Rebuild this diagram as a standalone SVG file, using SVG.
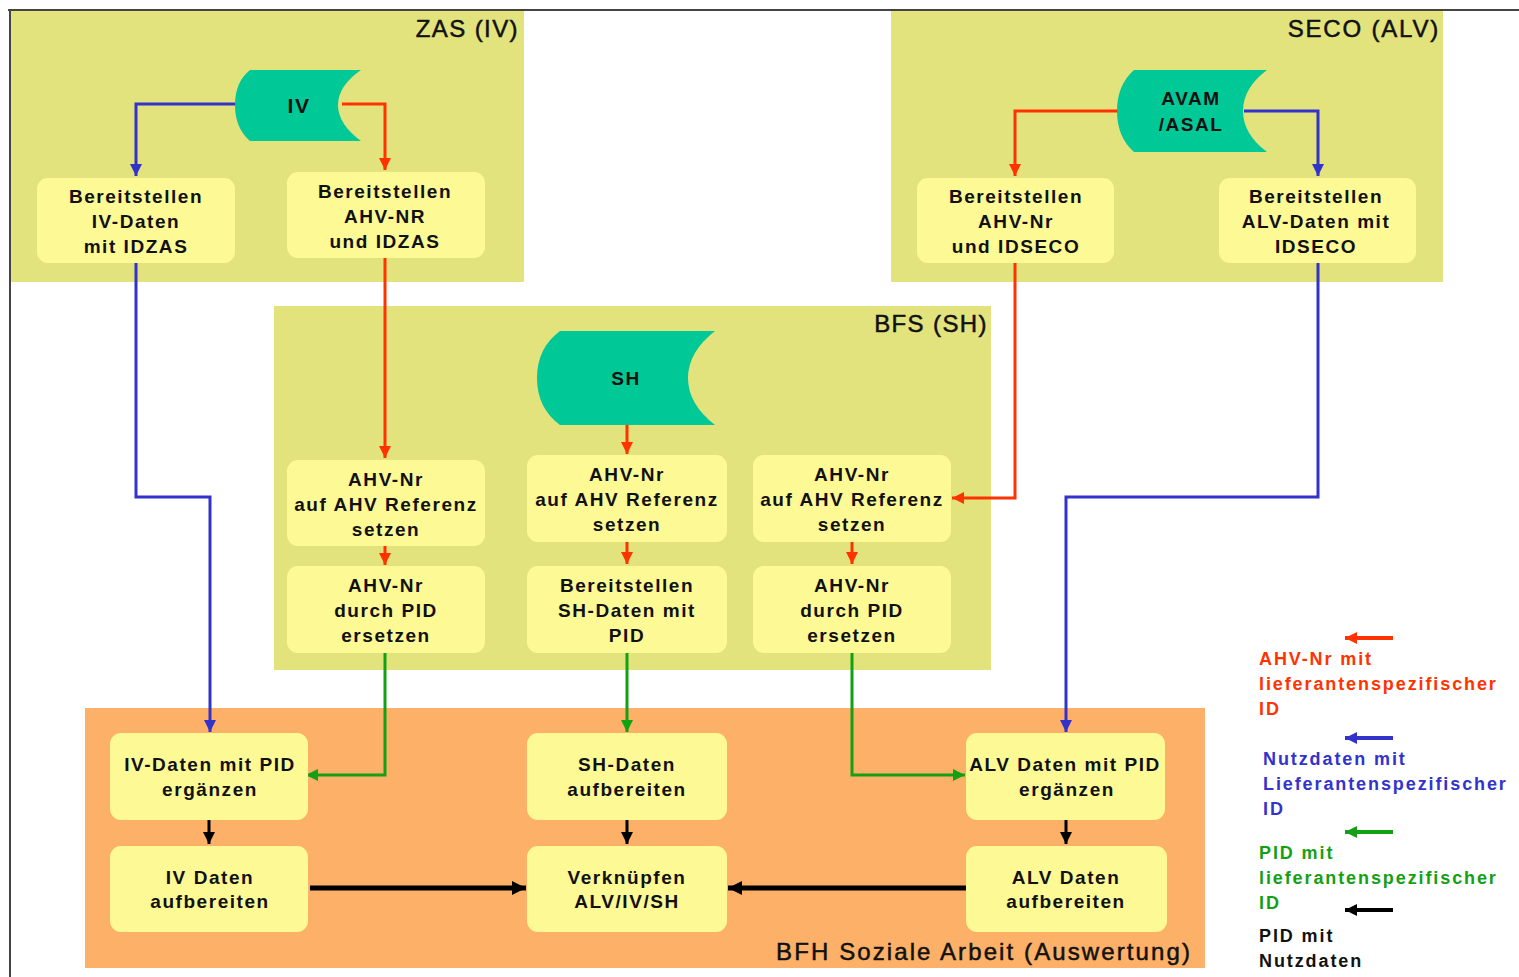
<svg xmlns="http://www.w3.org/2000/svg" width="1519" height="977" viewBox="0 0 1519 977">
<defs>
<style>
.panel{fill:#e3e37e}
.orange{fill:#fdb067}
.box{fill:#fdfa96}
.store{fill:#00c896}
.t{font-family:"Liberation Sans",Arial,sans-serif;font-weight:bold;font-size:19px;letter-spacing:1.55px;text-anchor:middle;fill:#111}
.title{font-family:"Liberation Sans",Arial,sans-serif;font-size:24px;letter-spacing:1.4px;text-anchor:end;fill:#111;stroke:#111;stroke-width:0.5}
.lg{font-family:"Liberation Sans",Arial,sans-serif;font-weight:bold;font-size:18px;letter-spacing:1.9px}
.red{stroke:#ff3300;stroke-width:3;fill:none}
.blue{stroke:#3333cc;stroke-width:3;fill:none}
.green{stroke:#14a014;stroke-width:3;fill:none}
.black{stroke:#000;stroke-width:3;fill:none}
.blackthick{stroke:#000;stroke-width:5;fill:none}
.lgl{stroke-width:4}
</style>
<marker id="ar" markerUnits="userSpaceOnUse" markerWidth="12" markerHeight="12" viewBox="0 0 12 12" refX="12" refY="6" orient="auto"><path d="M0,0 L12,6 L0,12 z" fill="#ff3300"/></marker>
<marker id="ab" markerUnits="userSpaceOnUse" markerWidth="12" markerHeight="12" viewBox="0 0 12 12" refX="12" refY="6" orient="auto"><path d="M0,0 L12,6 L0,12 z" fill="#3333cc"/></marker>
<marker id="ag" markerUnits="userSpaceOnUse" markerWidth="12" markerHeight="12" viewBox="0 0 12 12" refX="12" refY="6" orient="auto"><path d="M0,0 L12,6 L0,12 z" fill="#14a014"/></marker>
<marker id="ak" markerUnits="userSpaceOnUse" markerWidth="12" markerHeight="12" viewBox="0 0 12 12" refX="12" refY="6" orient="auto"><path d="M0,0 L12,6 L0,12 z" fill="#000"/></marker>
<marker id="akb" markerUnits="userSpaceOnUse" markerWidth="14" markerHeight="14" viewBox="0 0 14 14" refX="14" refY="7" orient="auto"><path d="M0,0 L14,7 L0,14 z" fill="#000"/></marker>
</defs>
<rect x="0" y="0" width="1519" height="977" fill="#fff"/>

<g id="panels">
<rect class="panel" x="10" y="11" width="514" height="271"/>
<rect class="panel" x="891" y="11" width="552" height="271"/>
<rect class="panel" x="274" y="306" width="717" height="364"/>
<rect class="orange" x="85" y="708" width="1120" height="260"/>
<text class="title" x="519" y="37">ZAS (IV)</text>
<text class="title" x="1440" y="37" style="letter-spacing:1.8px">SECO (ALV)</text>
<text class="title" x="988" y="332">BFS (SH)</text>
<text class="title" x="1192" y="960" style="letter-spacing:2.1px">BFH Soziale Arbeit (Auswertung)</text>
</g>

<g id="frame" stroke="#444" stroke-width="2" fill="none">
<line x1="8" y1="10" x2="1519" y2="10"/>
<line x1="10" y1="9" x2="10" y2="977"/>
</g>

<g id="connectors">
<polyline class="blue" points="236,104 136,104 136,176" marker-end="url(#ab)"/>
<polyline class="red" points="342,104 385,104 385,170" marker-end="url(#ar)"/>
<polyline class="red" points="1118,111 1015,111 1015,176" marker-end="url(#ar)"/>
<polyline class="blue" points="1244,111 1318,111 1318,176" marker-end="url(#ab)"/>
<polyline class="red" points="385,258 385,458" marker-end="url(#ar)"/>
<polyline class="red" points="627,425 627,454" marker-end="url(#ar)"/>
<polyline class="red" points="1015,263 1015,498 952,498" marker-end="url(#ar)"/>
<polyline class="blue" points="136,263 136,497 210,497 210,732" marker-end="url(#ab)"/>
<polyline class="blue" points="1318,263 1318,497 1066,497 1066,732" marker-end="url(#ab)"/>
<polyline class="red" points="385,546 385,565" marker-end="url(#ar)"/>
<polyline class="red" points="627,542 627,564" marker-end="url(#ar)"/>
<polyline class="red" points="852,542 852,564" marker-end="url(#ar)"/>
<polyline class="green" points="385,653 385,775 306,775" marker-end="url(#ag)"/>
<polyline class="green" points="627,653 627,732" marker-end="url(#ag)"/>
<polyline class="green" points="852,653 852,775 965,775" marker-end="url(#ag)"/>
<polyline class="black" points="209,820 209,844" marker-end="url(#ak)"/>
<polyline class="black" points="627,820 627,844" marker-end="url(#ak)"/>
<polyline class="black" points="1066,820 1066,844" marker-end="url(#ak)"/>
<polyline class="blackthick" points="310,888 526,888" marker-end="url(#akb)"/>
<polyline class="blackthick" points="966,888 728,888" marker-end="url(#akb)"/>
</g>

<g id="iv">
<path class="store" d="M250,70 L361,70 Q338,86 338,105 Q338,124 361,141 L250,141 Q235,128 235,105 Q235,82 250,70 Z"/>
<text class="t" x="299" y="113" style="font-size:21px">IV</text>
</g>
<g id="avam">
<path class="store" d="M1134,70 L1267,70 Q1243,88 1243,111 Q1243,134 1267,152 L1134,152 Q1117,137 1117,111 Q1117,85 1134,70 Z"/>
<text class="t" x="1191" y="105">AVAM</text>
<text class="t" x="1191" y="131">/ASAL</text>
</g>
<g id="sh">
<path class="store" d="M560,331 L715,331 Q688,352 688,378 Q688,404 715,425 L560,425 Q537,408 537,378 Q537,348 560,331 Z"/>
<text class="t" x="626" y="385">SH</text>
</g>

<g id="zas1"><rect class="box" x="37" y="178" width="198" height="85" rx="11"/>
<text class="t" x="136" y="203">Bereitstellen</text><text class="t" x="136" y="228">IV-Daten</text><text class="t" x="136" y="253">mit IDZAS</text></g>
<g id="zas2"><rect class="box" x="287" y="172" width="198" height="86" rx="11"/>
<text class="t" x="385" y="198">Bereitstellen</text><text class="t" x="385" y="223">AHV-NR</text><text class="t" x="385" y="248">und IDZAS</text></g>
<g id="seco1"><rect class="box" x="917" y="178" width="197" height="85" rx="11"/>
<text class="t" x="1016" y="203">Bereitstellen</text><text class="t" x="1016" y="228">AHV-Nr</text><text class="t" x="1016" y="253">und IDSECO</text></g>
<g id="seco2"><rect class="box" x="1219" y="178" width="197" height="85" rx="11"/>
<text class="t" x="1316" y="203">Bereitstellen</text><text class="t" x="1316" y="228">ALV-Daten mit</text><text class="t" x="1316" y="253">IDSECO</text></g>

<g id="bfs1"><rect class="box" x="287" y="460" width="198" height="86" rx="11"/>
<text class="t" x="386" y="486">AHV-Nr</text><text class="t" x="386" y="511">auf AHV Referenz</text><text class="t" x="386" y="536">setzen</text></g>
<g id="bfs2"><rect class="box" x="527" y="455" width="200" height="87" rx="11"/>
<text class="t" x="627" y="481">AHV-Nr</text><text class="t" x="627" y="506">auf AHV Referenz</text><text class="t" x="627" y="531">setzen</text></g>
<g id="bfs3"><rect class="box" x="753" y="455" width="198" height="87" rx="11"/>
<text class="t" x="852" y="481">AHV-Nr</text><text class="t" x="852" y="506">auf AHV Referenz</text><text class="t" x="852" y="531">setzen</text></g>
<g id="bfs4"><rect class="box" x="287" y="566" width="198" height="87" rx="11"/>
<text class="t" x="386" y="592">AHV-Nr</text><text class="t" x="386" y="617">durch PID</text><text class="t" x="386" y="642">ersetzen</text></g>
<g id="bfs5"><rect class="box" x="527" y="566" width="200" height="87" rx="11"/>
<text class="t" x="627" y="592">Bereitstellen</text><text class="t" x="627" y="617">SH-Daten mit</text><text class="t" x="627" y="642">PID</text></g>
<g id="bfs6"><rect class="box" x="753" y="566" width="198" height="87" rx="11"/>
<text class="t" x="852" y="592">AHV-Nr</text><text class="t" x="852" y="617">durch PID</text><text class="t" x="852" y="642">ersetzen</text></g>

<g id="bfh1"><rect class="box" x="110" y="733" width="198" height="87" rx="11"/>
<text class="t" x="210" y="771">IV-Daten mit PID</text><text class="t" x="210" y="796">ergänzen</text></g>
<g id="bfh2"><rect class="box" x="527" y="733" width="200" height="87" rx="11"/>
<text class="t" x="627" y="771">SH-Daten</text><text class="t" x="627" y="796">aufbereiten</text></g>
<g id="bfh3"><rect class="box" x="966" y="733" width="199" height="87" rx="11"/>
<text class="t" x="1065" y="771">ALV Daten mit PID</text><text class="t" x="1067" y="796">ergänzen</text></g>
<g id="bfh4"><rect class="box" x="110" y="846" width="198" height="86" rx="11"/>
<text class="t" x="210" y="884">IV Daten</text><text class="t" x="210" y="908">aufbereiten</text></g>
<g id="bfh5"><rect class="box" x="527" y="846" width="200" height="86" rx="11"/>
<text class="t" x="627" y="884">Verknüpfen</text><text class="t" x="627" y="908">ALV/IV/SH</text></g>
<g id="bfh6"><rect class="box" x="966" y="846" width="201" height="86" rx="11"/>
<text class="t" x="1066" y="884">ALV Daten</text><text class="t" x="1066" y="908">aufbereiten</text></g>

<g id="legend">
<line class="red lgl" x1="1393" y1="638" x2="1345" y2="638" marker-end="url(#ar)"/>
<text class="lg" fill="#ff3300" x="1259" y="665">AHV-Nr mit</text>
<text class="lg" fill="#ff3300" x="1259" y="690">lieferantenspezifischer</text>
<text class="lg" fill="#ff3300" x="1259" y="715">ID</text>
<line class="blue lgl" x1="1393" y1="738" x2="1345" y2="738" marker-end="url(#ab)"/>
<text class="lg" fill="#3333cc" x="1263" y="765">Nutzdaten mit</text>
<text class="lg" fill="#3333cc" x="1263" y="790">Lieferantenspezifischer</text>
<text class="lg" fill="#3333cc" x="1263" y="815">ID</text>
<line class="green lgl" x1="1393" y1="832" x2="1345" y2="832" marker-end="url(#ag)"/>
<text class="lg" fill="#14a014" x="1259" y="859">PID mit</text>
<text class="lg" fill="#14a014" x="1259" y="884">lieferantenspezifischer</text>
<text class="lg" fill="#14a014" x="1259" y="909">ID</text>
<line class="black lgl" x1="1393" y1="910" x2="1345" y2="910" marker-end="url(#ak)"/>
<text class="lg" fill="#111" x="1259" y="942">PID mit</text>
<text class="lg" fill="#111" x="1259" y="967">Nutzdaten</text>
</g>
</svg>
